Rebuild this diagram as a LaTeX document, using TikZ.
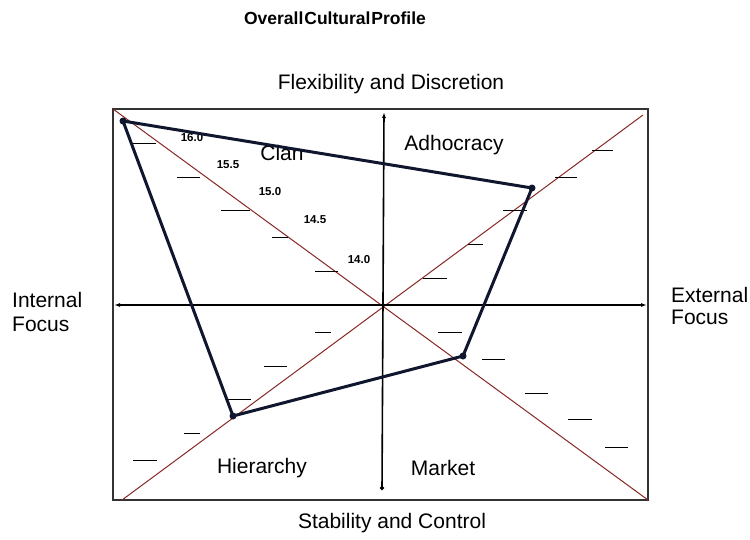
\documentclass[tikz,border=0pt]{standalone}
\usepackage{fontspec}
\setmainfont{Liberation Sans}
\usetikzlibrary{arrows.meta}

\definecolor{diagred}{RGB}{135,40,35}
\definecolor{profileblue}{RGB}{16,22,45}

\tikzset{
    axislabel/.style={font=\fontsize{21}{24}\selectfont, inner sep=0pt},
    score/.style={font=\fontsize{11.5}{13}\selectfont\bfseries, inner sep=0pt},
    scaletick/.style={line width=1pt},
    vertex/.style={circle, fill=profileblue, inner sep=0pt, minimum size=7pt},
    profile/.style={profileblue, line width=3pt, line join=round},
}

\begin{document}
\begin{tikzpicture}[x=1pt, y=-1pt]
            \useasboundingbox (0,0) rectangle (750,539);

            % Frame
            \draw [line width=1.8pt, black!80] (113,109) rectangle (648,500);

            % Diagonals
            \coordinate (tl) at (113,109);
            \coordinate (br) at (648,500);
            \coordinate (bl) at (122,500);
            \coordinate (tr) at (643,115);
            \draw [diagred, line width=1pt] (tl) -- (br);
            \draw [diagred, line width=1pt] (bl) -- (tr);

            % Axes
            \coordinate (west) at (114,305);
            \coordinate (east) at (647,305);
            \coordinate (north) at (384,112);
            \coordinate (south) at (382,490);
            \draw [line width=1.3pt, {Latex[length=6pt,width=4pt]}-{Latex[length=6pt,width=4pt]}] (west) -- (east);
            \draw [line width=1.6pt, {Circle[length=4pt]}-{Latex[length=6pt,width=4pt]}] (south) -- (north);

            % Titles
            \node [font=\fontsize{17.5}{20}\selectfont\bfseries, inner sep=0pt] (title) at (335,18) {Overall\hspace{1pt}Cultural\hspace{1pt}Profile};
            \node [axislabel] (flex) at (391,84) {Flexibility and Discretion};
            \node [axislabel] (stab) at (392,523) {Stability and Control};
            \node [axislabel, anchor=west, align=left] (internal) at (12,312) {Internal\\Focus};
            \node [axislabel, anchor=west, align=left, font=\fontsize{21}{22}\selectfont] (external) at (671,306) {External\\Focus};

            % Quadrants
            \node [axislabel] (clan) at (282,153) {Clan};
            \node [axislabel] (adhocracy) at (454,145) {Adhocracy};
            \node [axislabel] (hierarchy) at (262,468) {Hierarchy};
            \node [axislabel] (market) at (443,468) {Market};

            % Scale
            \node [score] (s160) at (192,138) {16.0};
            \node [score] (s155) at (228,165) {15.5};
            \node [score] (s150) at (270,192) {15.0};
            \node [score] (s145) at (315,220) {14.5};
            \node [score] (s140) at (359,260) {14.0};

            % Ticks upper left
            \draw [scaletick] (133,143) -- (156,143);
            \draw [scaletick] (177,177) -- (200,177);
            \draw [scaletick] (221,210) -- (250,210);
            \draw [scaletick] (272,237) -- (288,237);
            \draw [scaletick] (315,271) -- (338,271);
            % Ticks upper right
            \draw [scaletick] (592,150) -- (613,150);
            \draw [scaletick] (555,177) -- (577,177);
            \draw [scaletick] (503,210) -- (527,210);
            \draw [scaletick] (468,244) -- (483,244);
            \draw [scaletick] (423,278) -- (447,278);
            % Ticks lower left
            \draw [scaletick] (315,332) -- (331,332);
            \draw [scaletick] (264,366) -- (287,366);
            \draw [scaletick] (228,399) -- (251,399);
            \draw [scaletick] (184,433) -- (200,433);
            \draw [scaletick] (133,460) -- (157,460);
            % Ticks lower right
            \draw [scaletick] (438,332) -- (462,332);
            \draw [scaletick] (482,359) -- (505,359);
            \draw [scaletick] (525,393) -- (548,393);
            \draw [scaletick] (568,419) -- (592,419);
            \draw [scaletick] (605,447) -- (628,447);

            % Profile
            \node [vertex] (pclan) at (123,121) {};
            \node [vertex] (padhoc) at (532,188) {};
            \node [vertex] (pmarket) at (463,356) {};
            \node [vertex] (phier) at (233,416) {};
            \draw [profile] (pclan.center) -- (padhoc.center) -- (pmarket.center) -- (phier.center) -- cycle;
        \end{tikzpicture}
\end{document}
